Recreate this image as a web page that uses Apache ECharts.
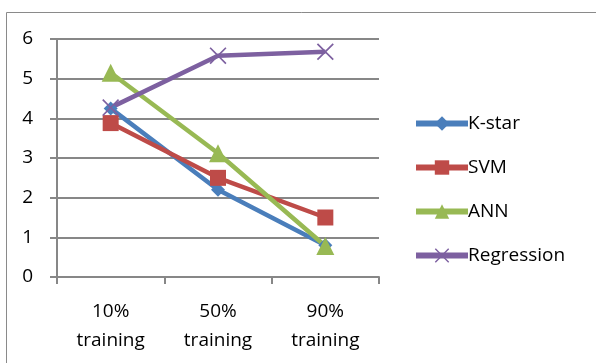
<!DOCTYPE html>
<html>
<head>
<meta charset="utf-8">
<script src="https://cdn.jsdelivr.net/npm/echarts@6/dist/echarts.min.js"></script>
<style>
  html, body { margin: 0; padding: 0; background: #fff; }
  #chart { width: 596px; height: 363px; }
</style>
</head>
<body>
<div id="chart"></div>
<script>
// Training-set sizes on the x axis
const categories = ['10%\ntraining', '50%\ntraining', '90%\ntraining'];

// Values for each method
const kstar = [4.25, 2.2, 0.8];
const svm = [3.88, 2.5, 1.5];
const ann = [5.15, 3.12, 0.78];
const regression = [4.27, 5.58, 5.68];

const seriesNames = ['K-star', 'SVM', 'ANN', 'Regression'];
const colors = ['#4A7EBB', '#BE4B48', '#98B954', '#7D60A0'];

// Thin X glyph for the regression markers
const crossPath = 'path://M0,1.4L1.4,0L10,8.6L18.6,0L20,1.4L11.4,10L20,18.6L18.6,20L10,11.4L1.4,20L0,18.6L8.6,10Z';

const font = 'Open Sans';
const gridColor = '#878787';

const chart = echarts.init(document.getElementById('chart'));

function lineSeries(name, data, color, symbol, size) {
  return {
    name: name,
    type: 'line',
    data: data,
    symbol: symbol,
    symbolSize: size,
    lineStyle: { color: color, width: 4.5 },
    itemStyle: { color: color },
    emphasis: { disabled: true },
    animation: false
  };
}

chart.setOption({
  animation: false,
  color: colors,
  graphic: [{
    type: 'rect',
    shape: { x: 6.5, y: 12.5, width: 620, height: 400 },
    style: { fill: 'none', stroke: '#8a8a8a', lineWidth: 1 },
    silent: true,
    z: -1
  }],
  grid: { left: 57, right: 217, top: 39, bottom: 86, containLabel: false },
  legend: {
    orient: 'vertical',
    left: 408,
    top: 109,
    itemWidth: 52,
    itemHeight: 18,
    itemGap: 25,
    lineStyle: { width: 6 },
    textStyle: { fontFamily: font, fontSize: 19, color: '#000', padding: [0, 0, 0, -5] },
    data: seriesNames
  },
  xAxis: {
    type: 'category',
    data: categories,
    boundaryGap: true,
    axisLine: { lineStyle: { color: gridColor, width: 2 } },
    axisTick: { show: true, length: 7, lineStyle: { color: gridColor, width: 2 } },
    axisLabel: { fontFamily: font, fontSize: 19, color: '#000', margin: 20, lineHeight: 29 }
  },
  yAxis: {
    type: 'value',
    min: 0,
    max: 6,
    interval: 1,
    axisLine: { show: true, lineStyle: { color: gridColor, width: 2 } },
    axisTick: { show: true, length: 7, lineStyle: { color: gridColor, width: 2 } },
    axisLabel: { fontFamily: font, fontSize: 19, color: '#000', margin: 24 },
    splitLine: { lineStyle: { color: gridColor, width: 2 } }
  },
  series: [
    lineSeries(seriesNames[0], kstar, colors[0], 'diamond', 14),
    lineSeries(seriesNames[1], svm, colors[1], 'rect', 16),
    lineSeries(seriesNames[2], ann, colors[2], 'triangle', 18),
    lineSeries(seriesNames[3], regression, colors[3], crossPath, 17)
  ]
});
</script>
</body>
</html>
